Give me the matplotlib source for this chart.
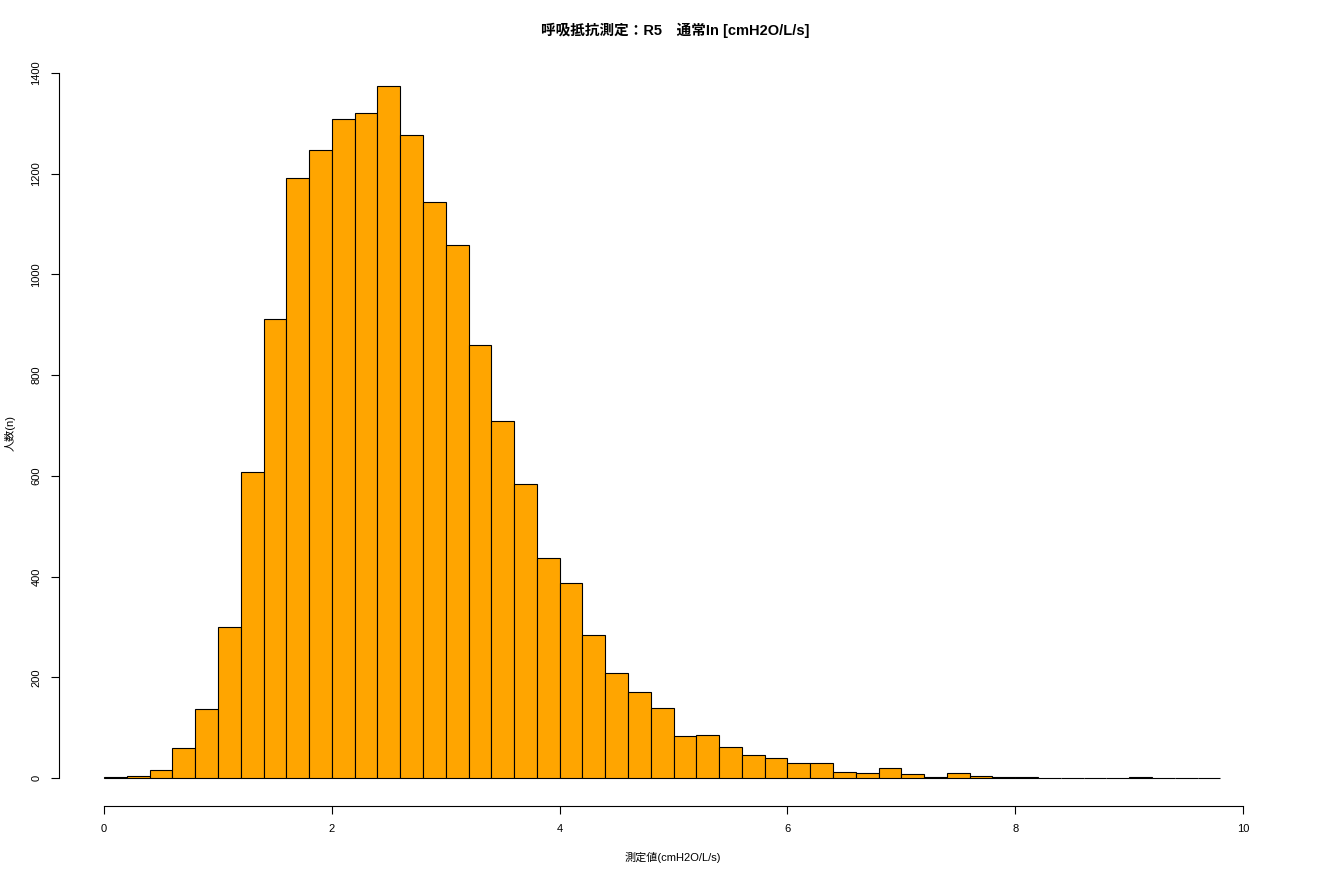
import numpy as np
import matplotlib
matplotlib.use('Agg')
import matplotlib.pyplot as plt

plt.rcParams['font.family'] = ['Liberation Sans', 'Noto Sans CJK JP', 'DejaVu Sans']

# histogram bins (width 0.2) and counts
bin_edges = np.round(np.arange(0, 9.8001, 0.2), 1)
counts = [2, 5, 16, 60, 137, 300, 607, 911, 1191, 1247,
          1308, 1320, 1374, 1277, 1144, 1058, 860, 709, 584, 437,
          387, 284, 208, 170, 140, 83, 86, 62, 46, 40,
          29, 29, 13, 11, 19, 9, 3, 11, 5, 2,
          2, 1, 0, 1, 1, 3, 1, 0, 1]

title = '呼吸抵抗測定：R5　通常In [cmH2O/L/s]'
xlabel = '測定値(cmH2O/L/s)'
ylabel = '人数(n)'
xticks = [0, 2, 4, 6, 8, 10]
yticks = list(range(0, 1401, 200))

W, H = 1320, 880
fig = plt.figure(figsize=(13.2, 8.8), dpi=100)
ax = fig.add_axes([0.045, 0.0844, 0.9133, 0.8492])

ax.bar(bin_edges[:-1], counts, width=np.diff(bin_edges), align='edge',
       color='orange', edgecolor='black', linewidth=0.8)

# R-like extents (4% padding)
xr = bin_edges[-1] - bin_edges[0]
ax.set_xlim(bin_edges[0] - 0.04 * xr, bin_edges[-1] + 0.04 * xr)
ym = max(counts)
ax.set_ylim(-0.04 * ym, 1.04 * ym)

for s in ['top', 'right']:
    ax.spines[s].set_visible(False)
ax.spines['left'].set_bounds(0, 1400)
ax.spines['bottom'].set_bounds(0, 10)
ax.spines['left'].set_linewidth(0.8)
ax.spines['bottom'].set_linewidth(0.8)

ax.set_xticks(xticks)
ax.set_yticks(yticks)
ax.set_yticklabels([str(v) for v in yticks], rotation=90, va='center')
ax.tick_params(axis='both', direction='out', length=6, width=0.8, labelsize=8, pad=7)

# titles placed like R's mtext lines
fig.text(675 / W, 1 - 30 / H, title, fontsize=10.5, fontweight='bold', ha='center', va='center')
fig.text(673 / W, 1 - 857 / H, xlabel, fontsize=8, ha='center', va='center')
fig.text(10 / W, 1 - 433 / H, ylabel, fontsize=8, ha='center', va='center', rotation=90)

fig.savefig('out.png', dpi=100)
